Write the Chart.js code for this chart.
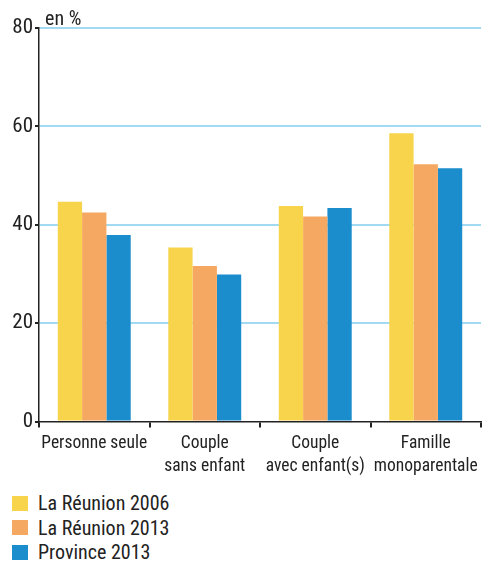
<!DOCTYPE html>
<html>
<head>
<meta charset="utf-8">
<script src="https://cdn.jsdelivr.net/npm/chart.js@4/dist/chart.umd.min.js"></script>
<style>
    body { margin: 0; background: #fff; font-family: Roboto, sans-serif; font-stretch: condensed; color: #222; }
    #wrap { position: relative; width: 489px; height: 483px; }
    #legende { margin: 8px 0 0 12px; }
    .item { display: flex; align-items: center; height: 24.5px; font-size: 20px; }
    .carre { width: 16px; height: 15px; margin-right: 10px; }
</style>
</head>
<body>
<div id="wrap"><canvas id="grafico"></canvas></div>
<div id="legende"></div>
<script>
var categorias = [['Personne seule'], ['Couple', 'sans enfant'], ['Couple', 'avec enfant(s)'], ['Famille', 'monoparentale']];
var series = ['La Réunion 2006', 'La Réunion 2013', 'Province 2013'];
var reunion2006 = [44.7, 35.4, 43.8, 58.6];
var reunion2013 = [42.5, 31.6, 41.7, 52.3];
var province2013 = [37.9, 29.9, 43.4, 51.5];
var ticksY = [0, 20, 40, 60, 80];
var cores = ['#f7d44c', '#f5a862', '#1b8ccc'];

var fonte = "Roboto, sans-serif";
var azulGrade = '#a2daf4';

var valores = [reunion2006, reunion2013, province2013];
var sets = [];
for (var i = 0; i < series.length; i++) {
    sets.push({
        label: series[i],
        data: valores[i],
        backgroundColor: cores[i],
        borderWidth: 0,
        barPercentage: 1,
        categoryPercentage: 0.66
    });
}

// texto "en %" acima do eixo
var unidade = {
    id: 'unidade',
    afterDraw: function(chart) {
        var ctx = chart.ctx;
        ctx.save();
        ctx.font = 'normal condensed 20px ' + fonte;
        ctx.fillStyle = '#222';
        ctx.textBaseline = 'alphabetic';
        ctx.fillText('en %', chart.chartArea.left + 6, chart.chartArea.top - 3);
        ctx.restore();
    }
};

var grafico = new Chart(document.getElementById('grafico').getContext('2d'), {
    type: 'bar',
    data: { labels: categorias, datasets: sets },
    options: {
        responsive: true,
        maintainAspectRatio: false,
        animation: false,
        layout: { padding: { top: 28, right: 8, left: 0, bottom: 0 } },
        plugins: { legend: { display: false }, tooltip: { enabled: false } },
        scales: {
            x: {
                offset: true,
                grid: {
                    offset: true,
                    drawOnChartArea: true,
                    color: function(c) { return c.index === categorias.length ? azulGrade : 'rgba(0,0,0,0)'; },
                    lineWidth: 2,
                    tickColor: '#222',
                    tickLength: 6
                },
                border: { color: '#222', width: 1.5 },
                // weight leva o "condensed" porque o Chart.js valida o style
                ticks: { color: '#222', font: { family: fonte, weight: 'condensed', size: 17.5, lineHeight: 1.3 }, padding: 5, maxRotation: 0, autoSkip: false }
            },
            y: {
                min: 0,
                max: 80,
                afterBuildTicks: function(axis) {
                    axis.ticks = ticksY.map(function(v) { return { value: v }; });
                },
                afterFit: function(axis) { axis.width = 39; },
                grid: {
                    color: function(c) { return c.tick && c.tick.value === 0 ? 'rgba(0,0,0,0)' : azulGrade; },
                    lineWidth: 2,
                    tickColor: '#222',
                    tickLength: 4
                },
                border: { color: '#222', width: 1.5 },
                ticks: { color: '#222', font: { family: fonte, weight: 'condensed', size: 21 }, padding: 2 }
            }
        }
    },
    plugins: [unidade]
});

var legenda = document.getElementById('legende');
for (var i = 0; i < series.length; i++) {
    var linha = document.createElement('div');
    linha.className = 'item';
    var carre = document.createElement('span');
    carre.className = 'carre';
    carre.style.background = cores[i];
    linha.appendChild(carre);
    linha.appendChild(document.createTextNode(series[i]));
    legenda.appendChild(linha);
}
</script>
</body>
</html>
